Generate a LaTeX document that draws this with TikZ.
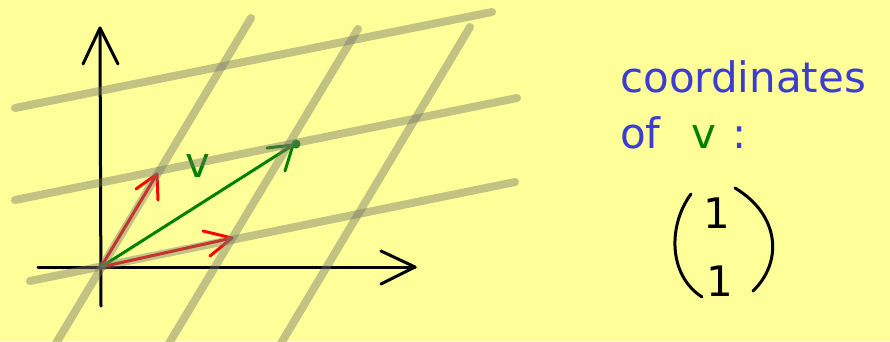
\documentclass[tikz,border=0pt]{standalone}
\usepackage{fontspec}
\setmainfont{DejaVu Sans}
\definecolor{bg}{RGB}{255,255,153}
\definecolor{gridc}{RGB}{120,120,105}
\definecolor{penblue}{RGB}{60,60,210}
\definecolor{pengreen}{RGB}{0,128,0}
\definecolor{penred}{RGB}{255,0,0}
\begin{document}
\begin{tikzpicture}[x=1pt,y=-1pt,
  pen/.style={line width=3pt,line cap=round,line join=round},
  gridline/.style={line width=8pt,line cap=round,draw=gridc,draw opacity=0.45},
  hand/.style={font=\fontsize{42}{50}\selectfont,inner sep=0pt,anchor=base west}]
\fill[bg] (0,0) rectangle (890,341);
\useasboundingbox (0,0) rectangle (890,341);
\clip (0,0) rectangle (890,341);
% axes
\coordinate (O) at (101,267);
\coordinate (xs) at (38,267);
\coordinate (xe) at (415,267);
\coordinate (ys) at (101,306);
\coordinate (ye) at (100,28);
\draw[pen] (xs) -- (xe);
\draw[pen] (381,251) -- (xe) -- (381,284);
\draw[pen] (ys) -- (ye);
\draw[pen] (83,64) -- (ye) -- (118,64);
% basis vectors
\coordinate (e1) at (232,238);
\coordinate (e2) at (157,174);
\coordinate (v) at (293,145);
\draw[pen,penred] (O) -- (e1);
\draw[pen,penred] (203,231) -- (e1) -- (210,256);
\draw[pen,penred] (O) -- (e2);
\draw[pen,penred] (136,189) -- (e2) -- (158,200);
% vector v
\draw[pen,pengreen] (O) -- (v);
\draw[pen,pengreen] (267,148) -- (v) -- (285,171);
\fill[pengreen] (296,144) circle (4.5);
\node[hand,text=pengreen,anchor=center] (vlabel) at (198,166) {v};
% grid
\draw[gridline] (30,281) -- (515,182);
\draw[gridline] (15,200) -- (517,98);
\draw[gridline] (15,108) -- (492,12);
\draw[gridline] (55,345) -- (251,18);
\draw[gridline] (168,345) -- (358,29);
\draw[gridline] (280,345) -- (470,27);
% text
\node[hand,text=penblue] (coord) at (620,92) {coordinates};
\node[hand,text=penblue] (of) at (620,148) {of};
\node[hand,text=pengreen] (vtext) at (691,148) {v};
\node[hand,text=penblue] (colon) at (732,148) {:};
\node[hand,anchor=base] (one1) at (717,228) {1};
\node[hand,anchor=base] (one2) at (720,296) {1};
\draw[pen] (691,194) .. controls (668,225) and (668,275) .. (702,297);
\draw[pen] (735,188) .. controls (780,215) and (783,262) .. (753,291);
\end{tikzpicture}
\end{document}
